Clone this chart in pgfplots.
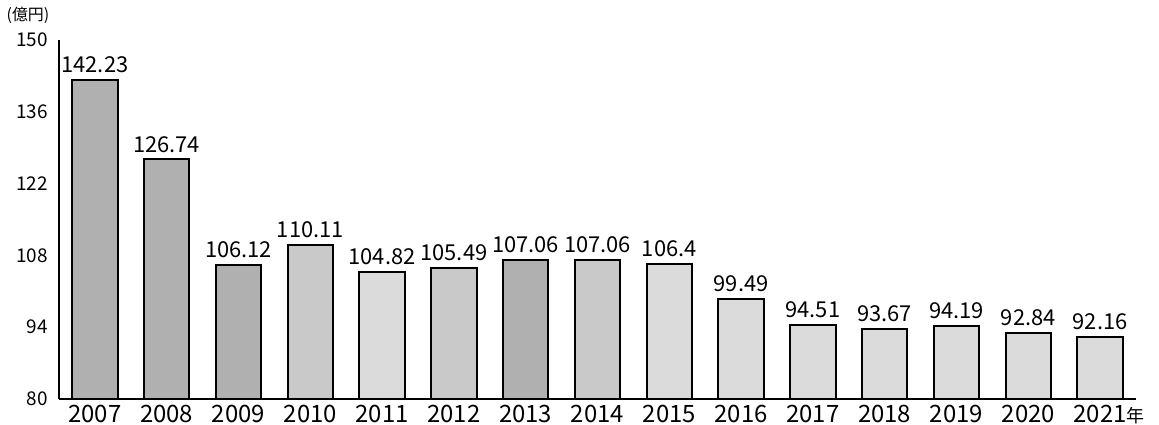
\documentclass[border=0pt]{standalone}
\usepackage{fontspec}
\setmainfont{Noto Sans CJK JP}
\usepackage{pgfplots}
\pgfplotsset{compat=1.18}

\begin{document}
\begin{tikzpicture}
\useasboundingbox (-29.5bp,-13bp) rectangle (550bp,199.5bp);
\begin{axis}[
  scale only axis, width=538.5bp, height=179.5bp,
  ymin=80, ymax=150, ytick={80,94,108,122,136,150},
  xmin=-0.5, xmax=14.5,
  xtick={0,...,14},
  xticklabels={2007,2008,2009,2010,2011,2012,2013,2014,2015,2016,2017,2018,2019,2020,2021\rlap{\smash{\fontsize{9}{10}\selectfont 年}}},
  axis lines=left, axis line style={-, line width=1bp},
  major tick length=0pt,
  /pgf/number format/assume math mode=true,
  yticklabel style={font=\fontsize{9.5}{10}\selectfont, xshift=-2bp},
  xticklabel style={font=\fontsize{12}{13}\selectfont, yshift=0.5bp},
  ybar, bar shift=0pt, bar width=0.63,
  every axis plot/.append style={draw=black, line width=1bp},
  nodes near coords,
  every node near coord/.append style={font=\fontsize{11}{12}\selectfont, black, inner sep=3bp},
  clip=false,
]
\addplot[fill=gray!62] coordinates {(0,142.23) (1,126.74) (2,106.12) (6,107.06)};
\addplot[fill=gray!42] coordinates {(3,110.11) (5,105.49) (7,107.06)};
\addplot[fill=gray!28] coordinates {(4,104.82) (8,106.4) (9,99.49) (10,94.51) (11,93.67) (12,94.19) (13,92.84) (14,92.16)};
\node[anchor=center, font=\fontsize{8}{9}\selectfont, inner sep=0pt] at ([xshift=-15.5bp, yshift=12.5bp]rel axis cs:0,1) {(億円)};
\end{axis}
\end{tikzpicture}
\end{document}
